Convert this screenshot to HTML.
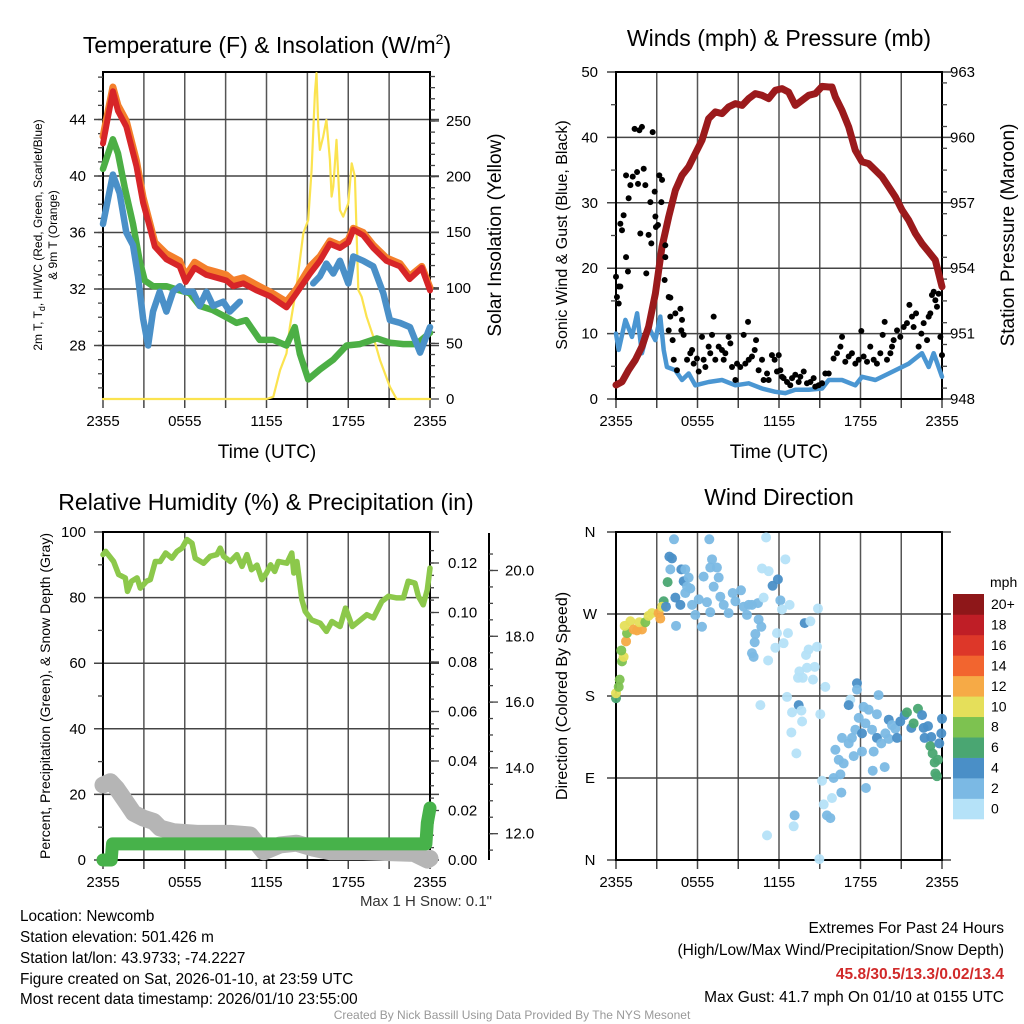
<!DOCTYPE html>
<html><head><meta charset="utf-8"><style>
html,body{margin:0;padding:0;background:#fff;}
svg{display:block;font-family:"Liberation Sans",sans-serif;}
</style></head><body>
<svg id="chart" width="1024" height="1024" viewBox="0 0 1024 1024" xmlns="http://www.w3.org/2000/svg">
<rect x="0" y="0" width="1024" height="1024" fill="#fff"/>
<g id="layer"></g>
<text x="267" y="53" font-size="23" text-anchor="middle">Temperature (F) &amp; Insolation (W/m<tspan font-size="14" dy="-9">2</tspan><tspan dy="9">)</tspan></text>
<text x="779" y="46" font-size="23" text-anchor="middle">Winds (mph) &amp; Pressure (mb)</text>
<text x="266" y="510" font-size="23" text-anchor="middle">Relative Humidity (%) &amp; Precipitation (in)</text>
<text x="779" y="505" font-size="23" text-anchor="middle">Wind Direction</text>
<text transform="translate(42,235) rotate(-90)" font-size="12" text-anchor="middle">2m T, T<tspan font-size="9" dy="3">d</tspan><tspan dy="-3">, HI/WC (Red, Green, Scarlet/Blue)</tspan></text>
<text transform="translate(57,235) rotate(-90)" font-size="12" text-anchor="middle">&amp; 9m T (Orange)</text>
<text transform="translate(501,235) rotate(-90)" font-size="19" text-anchor="middle">Solar Insolation (Yellow)</text>
<text x="267" y="458" font-size="19" text-anchor="middle">Time (UTC)</text>
<text transform="translate(567,235) rotate(-90)" font-size="16" text-anchor="middle">Sonic Wind &amp; Gust (Blue, Black)</text>
<text transform="translate(1014,235) rotate(-90)" font-size="19" text-anchor="middle">Station Pressure (Maroon)</text>
<text x="779" y="458" font-size="19" text-anchor="middle">Time (UTC)</text>
<text transform="translate(50,696) rotate(-90)" font-size="14" text-anchor="middle">Percent, Precipitation (Green), &amp; Snow Depth (Gray)</text>
<text transform="translate(567,696) rotate(-90)" font-size="16" text-anchor="middle">Direction (Colored By Speed)</text>
<text x="492" y="906" font-size="15" text-anchor="end" fill="#333">Max 1 H Snow: 0.1"</text>
<text x="990" y="587" font-size="14">mph</text>
<g font-size="15.3">
<text x="20" y="921">Location: Newcomb</text>
<text x="20" y="942">Station elevation: 501.426 m</text>
<text x="20" y="963">Station lat/lon: 43.9733; -74.2227</text>
<text x="20" y="984">Figure created on Sat, 2026-01-10, at 23:59 UTC</text>
<text x="20" y="1004">Most recent data timestamp: 2026/01/10 23:55:00</text>
</g>
<g font-size="15.5" text-anchor="end">
<text x="1004" y="933">Extremes For Past 24 Hours</text>
<text x="1004" y="955">(High/Low/Max Wind/Precipitation/Snow Depth)</text>
<text x="1004" y="979" fill="#d12a2a" font-weight="bold">45.8/30.5/13.3/0.02/13.4</text>
<text x="1004" y="1002">Max Gust: 41.7 mph On 01/10 at 0155 UTC</text>
</g>
<text x="512" y="1019" font-size="12" fill="#999" text-anchor="middle">Created By Nick Bassill Using Data Provided By The NYS Mesonet</text>
</svg>
<script>
// ---------- DATA ----------
const xTickLabels = ["2355","0555","1155","1755","2355"];
const tempTicks = [28,32,36,40,44];
const solarTicks = [0,50,100,150,200,250];
const windTicks = [0,10,20,30,40,50];
const pressTicks = [948,951,954,957,960,963];
const rhTicks = [0,20,40,60,80,100];
const precipTicks = ["0.00","0.02","0.04","0.06","0.08","0.10","0.12"];
const snowTicks = ["12.0","14.0","16.0","18.0","20.0"];
const dirTickLabels = ["N","E","S","W","N"];
const speedBinLabels = ["0","2","4","6","8","10","12","14","16","18","20+"];
const speedColors = ["#b5e2f8","#7bb9e4","#4a8fc7","#4aa672","#7dc250","#e5df5a","#f6aa46","#f2652f","#dd3729","#bf1e26","#8e1719"];

const redT = [0,0.73,1.1,1.71,2.45,2.94,3.43,3.8,4.65,5.63,6.07,6.73,7.59,8.33,9.06,9.55,10.3,11.26,12.25,13.47,14.2,15.2,15.92,16.65,17.39,18.0,18.37,19.1,19.84,20.8,21.8,22.5,23.4,24];
const redV = [42.3,46.0,44.6,43.5,40.7,38.1,36.4,35.0,34.1,33.6,32.5,33.5,33.0,32.8,32.6,32.2,32.4,31.9,31.5,30.7,31.7,33.1,34.0,35.2,34.9,35.3,36.2,35.8,34.9,34.0,33.6,32.7,33.5,31.9];
const orangeV = [42.8,46.3,45.0,43.9,41.1,38.5,36.7,35.3,34.5,34.0,32.9,33.9,33.4,33.2,33.0,32.6,32.8,32.3,31.8,31.1,32.0,33.6,34.3,35.4,35.1,35.5,36.3,36.0,35.1,34.2,33.8,32.9,33.6,32.1];
const greenT = [0,0.73,1.1,1.59,2.2,2.69,3.06,3.67,4.65,5.63,6.37,7.1,8.08,9.06,9.8,10.5,11.5,12.5,13.47,14.08,14.45,15.06,15.92,16.9,17.88,18.86,20.1,21.06,22.04,23.0,24];
const greenV = [40.5,42.6,41.6,39.2,36.6,34.0,32.6,32.2,32.2,31.9,31.7,30.8,30.5,30.0,29.6,29.8,28.4,28.4,28.0,29.3,27.4,25.6,26.3,27.0,28.0,28.1,28.5,28.2,28.1,28.1,28.9];
const blueT = [0,0.73,1.22,1.71,2.2,2.57,2.94,3.31,3.67,4.16,4.65,5.14,5.63,6.0,6.61,7.1,7.59,8.08,8.82,9.31,10.04,null,15.43,15.92,16.4,16.9,17.39,18.0,18.37,19.1,19.84,20.57,21.06,21.8,22.53,23.27,24];
const blueV = [36.6,40.1,38.8,36.0,35.1,32.9,29.9,28.0,30.4,31.8,30.4,31.8,32.2,31.8,31.8,30.8,31.8,30.8,31.1,30.4,31.1,null,32.4,32.9,33.8,33.1,34.0,32.4,34.3,34.0,33.6,31.7,29.8,29.6,29.3,27.5,29.3];
const solarT = [0,12.0,12.5,13.0,13.47,13.72,14.2,14.7,15.06,15.31,15.55,15.67,15.8,15.92,16.16,16.4,16.65,16.78,16.9,17.14,17.39,17.63,18.0,18.25,18.49,18.74,18.98,19.35,19.84,20.33,21.06,21.55,24];
const solarV = [0,0,2,26,41,65,101,149,161,206,275,293,245,224,236,251,215,182,191,233,170,164,176,212,200,98,92,74,56,35,11,0,0];

const pressT = [0,0.44,0.93,1.42,1.91,2.4,2.9,3.39,3.88,4.37,4.86,5.35,5.84,6.33,6.82,7.31,7.8,8.3,8.79,9.28,9.77,10.26,10.75,11.24,11.73,12.22,12.71,13.2,13.7,14.19,14.68,15.17,15.66,15.9,16.15,16.64,17.13,17.62,18.11,18.6,19.1,19.59,20.08,20.57,21.06,21.55,22.04,22.53,23.02,23.51,24];
const pressV = [948.64,948.79,949.33,949.79,950.40,951.31,952.84,954.98,956.36,957.58,958.26,958.65,959.26,959.87,960.86,961.17,961.09,961.40,961.55,961.47,961.78,962.01,961.93,961.78,962.16,962.24,962.08,961.47,961.70,961.93,962.01,962.34,962.31,962.31,961.85,961.24,960.48,959.41,958.88,958.80,958.49,958.19,957.73,957.27,956.66,956.20,955.59,955.13,954.75,954.37,953.15];
const sonicT = [0,0.2,0.69,1.18,1.55,1.91,2.4,2.89,3.26,3.51,3.75,4.37,4.86,5.35,5.84,6.82,7.8,8.79,9.77,10.75,11.73,12.47,13.2,14.19,15.17,15.66,16.64,17.62,18.11,19.1,20.08,20.57,21.55,22.53,23.02,23.39,24];
const sonicV = [10.0,7.5,12.1,9.5,13.1,7.0,11.0,9.0,12.6,7.5,4.9,4.4,2.9,3.9,2.1,2.6,2.9,2.1,2.4,1.6,1.1,0.9,1.4,1.4,1.6,2.9,2.9,2.1,3.4,2.9,3.9,4.4,5.4,7.0,4.9,7.0,3.4];
const gustT = [0,0.07,0.2,0.32,0.2,0.32,0.44,0.56,0.74,0.88,0.93,0.74,1.06,1.23,1.37,1.62,1.55,1.72,1.91,1.79,2.04,2.16,2.23,2.4,2.53,2.6,2.7,2.85,2.9,2.94,3.09,3.19,3.34,3.39,3.63,3.63,3.58,3.88,4.0,4.0,3.88,4.17,4.25,4.37,4.49,4.74,4.86,4.81,4.98,
5.23,5.47,5.6,5.72,5.96,6.09,6.33,6.45,6.58,6.82,6.94,7.07,7.19,7.31,7.56,7.8,7.93,8.05,8.29,8.42,8.54,8.79,8.91,9.15,9.4,9.52,9.72,9.77,10.01,10.21,10.31,10.5,10.75,10.87,11.12,11.24,11.48,11.68,11.85,11.98,12.1,12.22,12.34,12.59,12.83,12.96,13.2,13.45,13.57,13.82,14.06,14.31,14.55,14.67,14.92,15.17,
15.41,15.66,16.02,16.27,16.52,16.64,16.88,17.13,17.37,17.62,17.87,18.06,18.23,18.48,18.72,18.97,19.21,19.46,19.63,19.78,19.95,20.2,20.32,20.44,20.69,20.93,21.18,21.42,21.6,21.79,21.91,22.09,22.28,22.48,22.65,22.9,23.02,23.14,23.26,23.39,23.51,23.63,23.88,24.0,23.75];
const gustV = [18.7,15.6,17.2,17.2,14.6,26.8,25.8,28.1,21.7,19.5,30.7,34.2,32.7,34.0,41.3,32.9,34.7,41.1,41.6,25.3,35.2,32.7,19.2,25.1,30.1,23.8,40.8,31.7,27.9,26.3,26.6,34.2,30.1,33.5,23.5,21.7,18.2,15.6,15.5,12.6,10.5,9.0,6.0,13.1,4.4,13.8,12.1,10.5,9.8,
6.0,7.0,7.5,5.4,6.2,4.2,9.5,6.0,4.9,8.0,7.0,9.8,12.6,6.0,8.0,7.5,6.0,7.0,9.5,8.5,4.9,2.9,5.4,4.9,9.8,5.4,11.8,6.0,6.5,7.5,9.0,4.4,6.0,2.9,3.9,2.9,6.7,6.0,4.2,6.7,4.4,3.4,3.2,2.6,2.1,3.2,3.7,2.6,3.4,4.2,2.4,2.6,3.2,1.9,2.1,2.4,
3.9,3.9,6.2,7.0,8.0,9.5,5.7,6.5,7.0,5.4,6.0,10.4,6.5,5.7,8.0,6.0,5.4,7.0,9.8,11.8,6.0,7.0,8.0,9.0,10.5,9.5,11.0,11.6,14.4,12.6,11.0,13.1,8.0,10.0,11.6,9.0,12.6,13.1,15.9,16.4,15.1,14.1,9.5,6.7,16.1];

const rhT = [0,0.2,0.78,1.15,1.64,1.8,2.1,2.5,2.74,3.2,3.47,3.84,4.2,4.6,5.06,5.43,5.8,6.16,6.53,6.77,7.38,7.87,8.36,8.6,8.85,9.34,9.83,10.2,10.56,10.9,11.3,11.66,12.0,12.3,12.6,12.87,13.5,13.86,14.0,14.23,14.6,14.84,15.3,15.94,16.4,16.8,17.4,17.8,18.3,18.9,19.36,19.85,20.46,20.95,21.56,22.05,22.4,22.9,23.15,23.5,23.8,24];
const rhV = [93.1,94.1,91,87,86,81.9,85,86,82.9,85,85.5,91,91,93.6,92,94.1,95.1,97.7,96.6,92,90.5,92.6,93.1,95.1,92.6,91,93.1,89.5,93.1,88.5,89.9,85.5,87.5,90,88,91,90.5,93.6,87.5,91,79.3,75.8,73.2,72.2,69.7,72.7,71.2,76.8,71.2,73.2,74.8,73.8,78.8,80.4,79.9,79.9,85,84.4,80.4,77.8,82.4,89];
const snowT = [0,0.54,1.0,1.76,2.25,2.98,3.72,4.2,5.18,6.9,9.34,10.8,11.8,13.0,14.2,15.45,16.7,19.1,22.8,23.8,24];
const snowV = [13.48,13.58,13.38,12.92,12.62,12.47,12.37,12.17,12.06,12.01,12.01,11.96,11.45,11.66,11.71,11.56,11.45,11.45,11.4,11.2,11.25];
const precipT = [0,0.6,0.7,23.7,23.8,24];
const precipV = [0,0,0.0065,0.0065,0.015,0.021];

const dirT = [0,0,0.2,0.27,0.44,0.56,0.39,0.74,0.81,0.64,1.06,1.3,1.55,1.91,1.72,2.16,2.4,2.65,3.26,3.14,3.51,3.39,3.68,3.8,3.93,4.12,4.27,4.0,4.81,5.1,4.98,5.35,4.37,4.74,4.42,5.23,5.47,5.1,5.6,5.84,6.33,6.09,6.7,6.45,6.87,7.07,6.94,7.43,7.56,7.19,6.94,7.68,7.93,8.29,8.59,8.79,9.2,9.4,9.77,9.64,10.01,10.45,10.5,10.7,10.26,10.21,10.01,10.13,10.87,10.75,11.24,11.05,11.53,11.92,12.1,12.22,12.78,12.47,11.85,12.66,12.34,11.73,11.2,10.63,12.59,13.45,13.65,12.96,12.91,13.28,13.7,13.89,14.31,14.87,14.8,14.18,13.99,14.63,14.06,13.5,13.4,13.75,14.5,15.41,15.04,17.25,15.17,15.29,13.15,13.08,11.12,14.97,15.53,15.78,15.9,16.02,16.52,16.59,18.4,16.15,16.4,16.76,16.64,17.13,17.5,17.62,17.37,17.13,17.74,17.74,17.87,18.11,18.11,18.23,18.6,18.36,18.85,18.97,18.9,19.21,19.33,19.21,19.53,19.83,20.08,19.78,20.08,20.32,20.56,20.69,20.93,21.25,21.42,21.74,21.91,22.23,22.53,22.65,22.97,22.72,23.21,23.14,23.31,23.46,23.51,23.63,23.7,23.8,24,23.95];
const dirDeg = [177.6,183,190,198,218,223,230,240,249,257,262,253,252,253,261,261,268,271,265,271,284,278,278,305,333,331,352,319,319,319,306,310,288,280,257,300,298,293,280,269,256,286,283,311,352,330,321,321,310,300,272,289,280,271,293,284,296,278,280,269,280,282,264,256,248,239,227,223,288,320,317,354,301,308,285,275,280,330,249,249,238,233,219,170,179,170,164,162,140,117,152,260,262,276,234,231,225,212,211,207,200,200,198,190,160,176,87,61,49,37,27,1,49,46,68,90,94,74,79,121,110,106,134,128,114,143,134,170,194,187,156,139,119,168,165,150,143,119,98,160,181,134,128,139,133,102,154,148,144,134,152,159,162,145,150,166,159,145,147,134,135,125,117,107,95,92,110,128,155,139];
const dirSpd = [7,10,9,8.5,9,10.5,9,12.5,9,10.5,11,13,13,12.5,11,9,11,10.5,12.5,13,7,10.5,5,7,5,5,3,3,5,3,5,3,5,5,3,3,3,3,3,3,3,3,3,3,3,3,3,3,3,3,3,3,3,3,3,3,3,3,3,3,3,3,3,3,3,3,3,3,1.5,1.5,1.5,1.5,5,5,3,1.5,1.5,1.5,1.5,1.5,1.5,1.5,1.5,1.5,1.5,5,1.5,1.5,1.5,1.5,1.5,5,1.5,1.5,1.5,1.5,1.5,1.5,1.5,1.5,1.5,1.5,1.5,1.5,1.5,1.5,1.5,1.5,3,1.5,1.5,1.5,3,3,1.5,3,3,3,3,3,3,3,3,3,3,3,3,5,5,3,3,5,3,3,3,3,3,3,3,3,3,5,3,3,3,3,5,3,3,5,5,5,7,5,7,7,5,5,5,5,5,7,7,7,7,7,7,5,5,5,3];

// ---------- HELPERS ----------
const NS = "http://www.w3.org/2000/svg";
const layer = document.getElementById("layer");
function mk(tag, attrs, parent) {
  const el = document.createElementNS(NS, tag);
  for (const k in attrs) el.setAttribute(k, attrs[k]);
  (parent || layer).appendChild(el);
  return el;
}
function pathFrom(ts, vs, xf, yf) {
  let d = "", pen = false;
  for (let i = 0; i < ts.length; i++) {
    if (ts[i] === null || vs[i] === null) { pen = false; continue; }
    d += (pen ? "L" : "M") + xf(ts[i]).toFixed(1) + "," + yf(vs[i]).toFixed(1);
    pen = true;
  }
  return d;
}
function frame(x0, y0, x1, y1, hLines, name) {
  const g = mk("g", {});
  
  
  for (let i = 1; i < 8; i++) {
    const x = x0 + (x1 - x0) * i / 8;
    const ln = mk("line", {x1: x, y1: y0, x2: x, y2: y1, stroke: "#555", "stroke-width": 1.5}, g);
    
    
  }
  for (let i = 0; i <= 8; i++) {
    const x = x0 + (x1 - x0) * i / 8;
    const tk = mk("line", {x1: x, y1: y1, x2: x, y2: y1 + 9, stroke: "#444", "stroke-width": 1.5}, g);
    
    
  }
  hLines.forEach(y => {
    const ln = mk("line", {x1: x0 - 9, y1: y, x2: x1 + 9, y2: y, stroke: "#444", "stroke-width": 1.5}, g);
    
    
  });
  const r = mk("rect", {x: x0, y: y0, width: x1 - x0, height: y1 - y0, fill: "none", stroke: "#000", "stroke-width": 2}, g);
  
  
  xTickLabels.forEach((lab, i) => {
    const t = mk("text", {x: x0 + (x1 - x0) * i / 4, y: y1 + 27, "font-size": 15, "text-anchor": "middle"}, g);
    t.textContent = lab;
    
    
  });
}
function label(x, y, txt, anchor, size, name) {
  const t = mk("text", {x: x, y: y, "font-size": size || 15, "text-anchor": anchor});
  t.textContent = txt;
  
  
  return t;
}
function line(d, color, w, name, op) {
  const p = mk("path", {d: d, fill: "none", stroke: color, "stroke-width": w, "stroke-linejoin": "round", "stroke-linecap": "round", opacity: op || 1});
  
  
  return p;
}
function tickMark(x, y, len, name) {
  const l = mk("line", {x1: x, y1: y, x2: x + len, y2: y, stroke: "#444", "stroke-width": 1.3});
  
  
}

// ---------- PANEL 1: Temperature ----------
const p1 = {x0: 103, x1: 430, y0: 72, y1: 399};
const x1s = h => p1.x0 + h * (p1.x1 - p1.x0) / 24;
const yT = t => 289 - (t - 32) * 14.125;
const yS = s => 399 - s * 1.112;
frame(p1.x0, p1.y0, p1.x1, p1.y1, tempTicks.map(yT), "temp-plot-frame");
tempTicks.forEach(v => label(86, yT(v) + 5, String(v), "end", 15, "temp-tick-label"));
for (let t = 25; t <= 47; t++) tickMark(p1.x0 - 5, yT(t), 5, "temp-minor-tick");
solarTicks.forEach(v => { label(446, yS(v) + 5, String(v), "start", 15, "solar-tick-label"); tickMark(p1.x1, yS(v), 9, "solar-tick"); });
for (let s = 10; s <= 290; s += 10) tickMark(p1.x1, yS(s), 5, "solar-minor-tick");
line(pathFrom(solarT, solarV, x1s, yS), "#fbe34f", 2.2, "solar-line");
line(pathFrom(greenT, greenV, x1s, yT), "#4caf45", 6.5, "dewpoint-line");
line(pathFrom(blueT, blueV, x1s, yT), "#4a90c8", 6.5, "windchill-line");
line(pathFrom(redT, orangeV, x1s, yT), "#f47f2b", 7, "temp-9m-line");
line(pathFrom(redT, redV, x1s, yT), "#d72528", 6, "temp-2m-line");

// ---------- PANEL 2: Winds ----------
const p2 = {x0: 616, x1: 942, y0: 72, y1: 399};
const x2s = h => p2.x0 + h * (p2.x1 - p2.x0) / 24;
const yW = w => 399 - w * 6.54;
const yP = p => 399 - (p - 948) * 21.8;
frame(p2.x0, p2.y0, p2.x1, p2.y1, windTicks.map(yW), "wind-plot-frame");
windTicks.forEach(v => label(598, yW(v) + 5, String(v), "end", 15, "wind-tick-label"));
pressTicks.forEach(v => label(950, yP(v) + 5, String(v), "start", 15, "pressure-tick-label"));
for (let w = 5; w < 50; w += 10) tickMark(p2.x0 - 5, yW(w), 5, "wind-minor-tick");
for (let p = 948.5; p < 963; p += 1) tickMark(p2.x1, yP(p), 5, "pressure-minor-tick");
line(pathFrom(sonicT, sonicV, x2s, yW), "#4a96d2", 4.5, "sonic-wind-line");
line(pathFrom(pressT, pressV, x2s, yP), "#9b1a1c", 7, "pressure-line");
const gGust = mk("g", {});


for (let i = 0; i < gustT.length; i++) {
  const c = mk("circle", {cx: x2s(gustT[i]), cy: yW(gustV[i]), r: 3, fill: "#000"}, gGust);
  
  
}

// ---------- PANEL 3: RH ----------
const p3 = {x0: 103, x1: 430, y0: 532, y1: 860};
const x3s = h => p3.x0 + h * (p3.x1 - p3.x0) / 24;
const yR = r => 860 - r * 3.28;
const yPr = p => 860 - p * 2475;
const ySn = s => 860 - (s - 11.2) * 32.9;
frame(p3.x0, p3.y0, p3.x1, p3.y1, rhTicks.map(yR), "rh-plot-frame");
rhTicks.forEach(v => label(86, yR(v) + 5, String(v), "end", 15, "rh-tick-label"));
for (let r = 10; r < 100; r += 20) tickMark(p3.x0 - 5, yR(r), 5, "rh-minor-tick");
precipTicks.forEach(v => { label(448, yPr(+v) + 5, v, "start", 15, "precip-tick-label"); tickMark(p3.x1, yPr(+v), 9, "precip-tick"); });
for (let p = 0.005; p < 0.13; p += 0.005) tickMark(p3.x1, yPr(p), 4, "precip-minor-tick");
const snowAxis = mk("line", {x1: 489, y1: 533, x2: 489, y2: 860, stroke: "#000", "stroke-width": 2});


snowTicks.forEach(v => { label(505, ySn(+v) + 5, v, "start", 15, "snow-tick-label"); tickMark(489, ySn(+v), 9, "snow-tick"); });
for (let s = 11.5; s < 21; s += 0.5) tickMark(489, ySn(s), 4, "snow-minor-tick");
line(pathFrom(snowT, snowV, x3s, ySn), "#b5b5b5", 17, "snow-depth-line");
line(pathFrom(precipT, precipV, x3s, yPr), "#47b24a", 13, "precip-line");
line(pathFrom(rhT, rhV, x3s, yR), "#8cc84b", 5.5, "rh-line");

// ---------- PANEL 4: Direction ----------
const p4 = {x0: 616, x1: 942, y0: 532, y1: 860};
const x4s = h => p4.x0 + h * (p4.x1 - p4.x0) / 24;
const yD = d => 860 - d * 328 / 360;
frame(p4.x0, p4.y0, p4.x1, p4.y1, [0, 90, 180, 270, 360].map(yD), "direction-plot-frame");
dirTickLabels.forEach((lab, i) => label(590, yD(i * 90) + 5, lab, "middle", 15, "direction-tick-label"));
function speedColor(s) { return speedColors[Math.min(10, Math.floor(s / 2))]; }
const gDir = mk("g", {});


for (let i = 0; i < dirT.length; i++) {
  const c = mk("circle", {cx: x4s(dirT[i]), cy: yD(dirDeg[i]), r: 5, fill: speedColor(dirSpd[i]), opacity: 0.95}, gDir);
  
  
}
// colorbar
const cb = {x: 953, y: 594, w: 31, h: 225};
const bh = cb.h / speedColors.length;
for (let i = 0; i < speedColors.length; i++) {
  const r = mk("rect", {x: cb.x, y: cb.y + cb.h - (i + 1) * bh, width: cb.w, height: bh + 0.3, fill: speedColors[i]});
  
  
  label(991, cb.y + cb.h - (i + 1) * bh + 15, speedBinLabels[i], "start", 14, "colorbar-label");
}
</script>
</body></html>
